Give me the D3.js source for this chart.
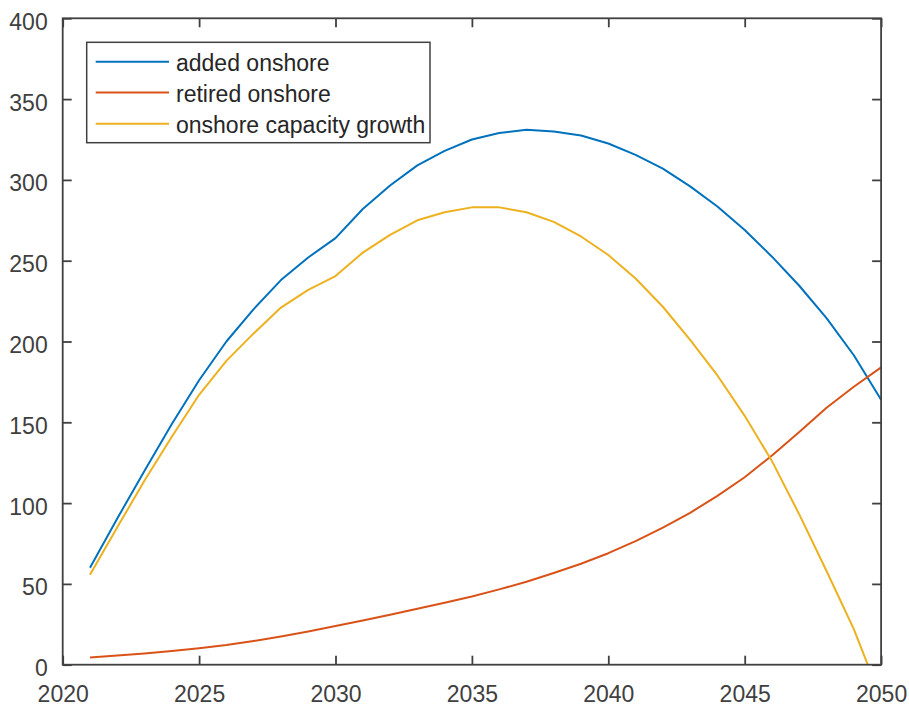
<!DOCTYPE html>
<html>
<head>
<meta charset="utf-8">
<script src="https://cdn.jsdelivr.net/npm/d3@7"></script>
<style>
  html, body { margin: 0; padding: 0; background: #fff; }
  svg { display: block; font-family: "Liberation Sans", Arial, Helvetica, sans-serif; }
</style>
</head>
<body>
<svg id="chart" width="909" height="708"></svg>
<script>
// Yearly onshore wind figures, 2021–2050
const years = d3.range(2021, 2051);
const addedOnshore = [60, 90.5, 120, 149, 176, 200, 220, 238, 252, 264,
  282, 296.5, 309, 318, 325, 329, 331, 330, 327.5, 322.5,
  315.5, 307, 296, 283.5, 269, 252.5, 234.5, 214.5, 191.5, 164];
const retiredOnshore = [4.5, 5.7, 7, 8.5, 10.2, 12.2, 14.7, 17.5, 20.6, 24,
  27.3, 30.9, 34.6, 38.3, 42.2, 46.6, 51.3, 56.7, 62.5, 69,
  76.5, 84.8, 94, 104.5, 116, 129.5, 144, 159, 172, 184];
const capacityGrowth = [55.6, 85, 114, 141, 167, 188, 205, 221, 232, 240.5,
  255, 266, 275, 280, 283, 283, 280, 274, 265, 253.5,
  239, 221.5, 201, 179, 154, 126, 93, 58, 22, -21];

const seriesNames = ["added onshore", "retired onshore", "onshore capacity growth"];
const seriesColors = ["#0072BD", "#D95319", "#EDB120"];
const xTicks = [2020, 2025, 2030, 2035, 2040, 2045, 2050];
const yTicks = [0, 50, 100, 150, 200, 250, 300, 350, 400];

const svg = d3.select("#chart");
const plot = { left: 62.7, right: 881.1, top: 18.3, bottom: 664.7 };
const axisColor = "#404040";

const x = d3.scaleLinear().domain([2020, 2050]).range([plot.left, plot.right]);
const y = d3.scaleLinear().domain([0, 400]).range([plot.bottom, plot.top]);

// Clip lines to the axes box
svg.append("defs").append("clipPath").attr("id", "plotClip")
  .append("rect")
  .attr("x", plot.left).attr("y", plot.top)
  .attr("width", plot.right - plot.left).attr("height", plot.bottom - plot.top);

const line = d3.line().x((d, i) => x(years[i])).y(d => y(d));
const allSeries = [addedOnshore, retiredOnshore, capacityGrowth];

svg.append("g").attr("clip-path", "url(#plotClip)")
  .selectAll("path").data(allSeries).join("path")
  .attr("d", d => line(d))
  .attr("fill", "none")
  .attr("stroke", (d, i) => seriesColors[i])
  .attr("stroke-width", 2)
  .attr("stroke-linejoin", "round");

// Axes: ticks point inward, mirrored on top and right
const tickLen = 9;
const fontSize = 23;
const bottomAxis = d3.axisBottom(x).tickValues(xTicks).tickSize(-tickLen).tickPadding(0).tickFormat(d3.format("d"));
const topAxis = d3.axisTop(x).tickValues(xTicks).tickSize(-tickLen).tickFormat("");
const leftAxis = d3.axisLeft(y).tickValues(yTicks).tickSize(-tickLen).tickPadding(0);
const rightAxis = d3.axisRight(y).tickValues(yTicks).tickSize(-tickLen).tickFormat("");

function styleAxis(g) {
  g.select(".domain").remove();
  g.selectAll(".tick line").attr("stroke", axisColor).attr("stroke-width", 1.8);
  g.selectAll(".tick text").attr("fill", axisColor).attr("font-size", fontSize)
    .attr("font-family", "'Liberation Sans', Arial, sans-serif");
}

const gB = svg.append("g").attr("transform", `translate(0,${plot.bottom})`).call(bottomAxis).call(styleAxis);
gB.selectAll(".tick text").attr("dy", null).attr("y", 37);
svg.append("g").attr("transform", `translate(0,${plot.top})`).call(topAxis).call(styleAxis);
const gL = svg.append("g").attr("transform", `translate(${plot.left},0)`).call(leftAxis).call(styleAxis);
gL.selectAll(".tick text").attr("dy", null).attr("x", -15).attr("y", 11);
svg.append("g").attr("transform", `translate(${plot.right},0)`).call(rightAxis).call(styleAxis);

// Axes box
svg.append("rect")
  .attr("x", plot.left).attr("y", plot.top)
  .attr("width", plot.right - plot.left).attr("height", plot.bottom - plot.top)
  .attr("fill", "none").attr("stroke", axisColor).attr("stroke-width", 1.8);

// Legend
const legend = svg.append("g");
legend.append("rect")
  .attr("x", 86.7).attr("y", 42.3).attr("width", 343.3).attr("height", 100.4)
  .attr("fill", "#fff").attr("stroke", axisColor).attr("stroke-width", 1.5);
const rowY = [61.7, 92.6, 123.8];
seriesNames.forEach((name, i) => {
  legend.append("line")
    .attr("x1", 95.7).attr("x2", 169).attr("y1", rowY[i]).attr("y2", rowY[i])
    .attr("stroke", seriesColors[i]).attr("stroke-width", 2);
  legend.append("text")
    .attr("x", 176).attr("y", rowY[i] + 9.3)
    .attr("font-size", 23).attr("fill", "#262626")
    .text(name);
});
</script>
</body>
</html>
